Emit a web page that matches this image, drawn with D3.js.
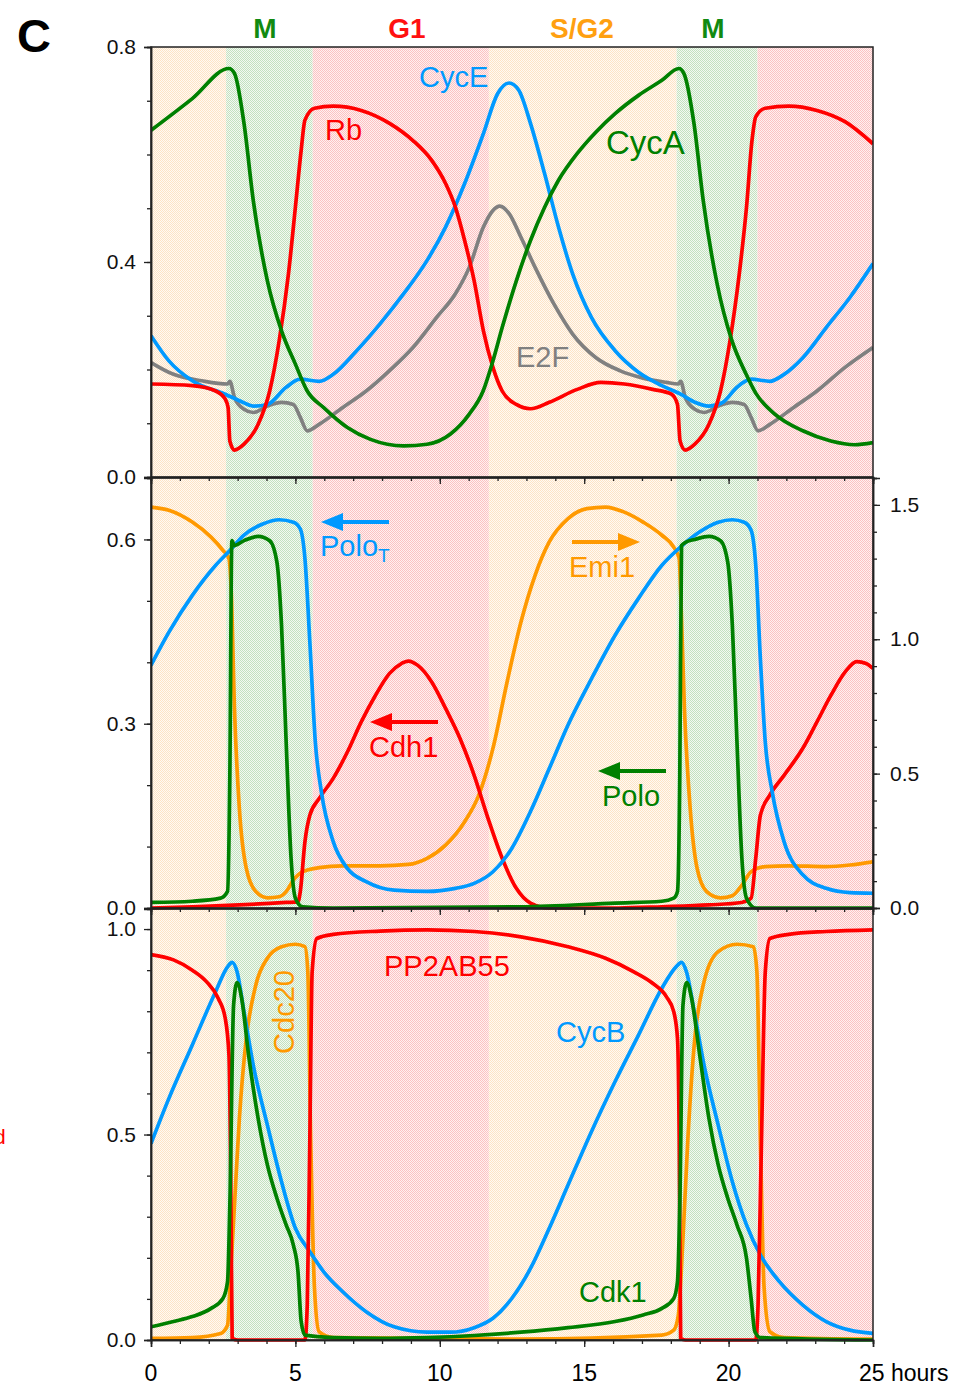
<!DOCTYPE html>
<html>
<head>
<meta charset="utf-8">
<script src="https://cdn.jsdelivr.net/npm/d3@7"></script>
<style>
  body { margin: 0; background: #fff; }
  text { font-family: "Liberation Sans", Arial, sans-serif; }
</style>
</head>
<body>
<div id="chart-area"></div>
<script>
// cell cycle phases (hours)
var phaseStarts = [0, 2.6, 5.6, 11.7, 18.2, 21.0];
var phaseEnds   = [2.6, 5.6, 11.7, 18.2, 21.0, 25];
var phaseKinds  = ["sg2", "m", "g1", "sg2", "m", "g1"];
var phaseLabels = [["M", 265, "m"], ["G1", 407, "g1"], ["S/G2", 582, "sg2"], ["M", 713, "m"]];

// panel 1
var cycA = [[0,0.645],[1.43,0.704],[2.70,0.760],[2.89,0.751],[3.22,0.658],[3.54,0.515],[4.03,0.365],[4.52,0.272],[5.0,0.21],[5.41,0.160],[5.98,0.129],[6.8,0.092],[7.6,0.070],[8.75,0.058],[9.56,0.061],[10.37,0.080],[11.02,0.117],[11.5,0.160],[11.84,0.216],[12.16,0.278],[12.65,0.365],[13.14,0.44],[13.63,0.502],[14.11,0.552],[14.76,0.602],[15.41,0.642],[16.07,0.676],[16.88,0.710],[17.69,0.738],[18.28,0.760],[18.45,0.751],[18.8,0.658],[19.12,0.515],[19.6,0.36],[20.1,0.256],[20.6,0.192],[20.94,0.156],[21.6,0.117],[22.57,0.086],[23.54,0.067],[24.36,0.060],[25,0.064]];
var rb = [[0,0.173],[1.43,0.170],[2.24,0.160],[2.57,0.145],[2.67,0.129],[2.73,0.067],[2.89,0.050],[3.22,0.061],[3.71,0.098],[4.11,0.160],[4.44,0.254],[4.76,0.378],[5.0,0.502],[5.2,0.608],[5.33,0.664],[5.66,0.686],[6.31,0.690],[7.28,0.682],[8.26,0.658],[9.07,0.626],[9.72,0.589],[10.2,0.546],[10.54,0.502],[10.86,0.440],[11.19,0.365],[11.51,0.272],[11.84,0.204],[12.16,0.160],[12.65,0.135],[13.14,0.127],[13.79,0.139],[14.76,0.163],[15.58,0.176],[16.39,0.173],[17.37,0.163],[18.02,0.154],[18.23,0.135],[18.32,0.067],[18.5,0.050],[18.83,0.061],[19.32,0.098],[19.72,0.160],[20.05,0.254],[20.37,0.378],[20.62,0.502],[20.81,0.626],[20.94,0.670],[21.27,0.686],[22.08,0.690],[23.06,0.682],[24.03,0.661],[25,0.620]];
var cycE = [[0,0.263],[0.62,0.216],[1.43,0.179],[2.57,0.154],[3.06,0.142],[3.54,0.132],[4.03,0.135],[4.68,0.167],[5.17,0.182],[5.82,0.178],[6.31,0.191],[7.12,0.235],[7.93,0.285],[8.75,0.341],[9.56,0.403],[10.2,0.465],[10.86,0.546],[11.51,0.639],[12.0,0.713],[12.4,0.733],[12.73,0.720],[13.14,0.658],[13.63,0.564],[14.11,0.465],[14.6,0.378],[15.25,0.297],[16.07,0.235],[16.88,0.195],[17.69,0.170],[18.34,0.154],[18.83,0.139],[19.32,0.132],[19.8,0.139],[20.29,0.167],[20.78,0.182],[21.43,0.178],[21.92,0.191],[22.57,0.222],[23.38,0.278],[24.2,0.334],[25,0.397]];
var e2f = [[0,0.213],[0.78,0.191],[1.76,0.179],[2.65,0.173],[2.73,0.178],[2.89,0.148],[3.22,0.126],[3.54,0.120],[4.03,0.132],[4.52,0.139],[4.93,0.135],[5.17,0.111],[5.41,0.086],[5.82,0.098],[6.63,0.129],[7.45,0.160],[8.26,0.198],[9.07,0.241],[9.89,0.297],[10.54,0.341],[11.02,0.390],[11.51,0.465],[11.84,0.496],[12.08,0.504],[12.4,0.490],[12.81,0.446],[13.3,0.390],[13.95,0.322],[14.6,0.266],[15.41,0.222],[16.23,0.198],[17.04,0.184],[17.85,0.176],[18.26,0.173],[18.34,0.178],[18.5,0.148],[18.83,0.126],[19.15,0.120],[19.64,0.132],[20.13,0.139],[20.54,0.135],[20.78,0.111],[21.02,0.086],[21.43,0.098],[22.24,0.129],[23.06,0.160],[24.03,0.204],[25,0.241]];

// panel 2 (Emi1 on the right axis)
var poloT = [[0,0.395],[0.62,0.449],[1.43,0.509],[2.24,0.558],[2.73,0.582],[3.22,0.607],[3.87,0.625],[4.44,0.632],[4.93,0.628],[5.17,0.617],[5.33,0.569],[5.5,0.433],[5.69,0.270],[5.9,0.189],[6.31,0.108],[6.8,0.0645],[7.45,0.043],[8.42,0.029],[9.56,0.027],[10.54,0.032],[11.19,0.040],[11.84,0.059],[12.49,0.097],[13.14,0.157],[13.79,0.227],[14.44,0.298],[15.25,0.373],[16.07,0.444],[16.88,0.504],[17.69,0.558],[18.34,0.588],[18.99,0.612],[19.64,0.628],[20.13,0.632],[20.54,0.628],[20.78,0.615],[20.94,0.558],[21.1,0.406],[21.27,0.270],[21.51,0.189],[21.92,0.108],[22.57,0.054],[23.38,0.032],[24.2,0.025],[25,0.024]];
var polo = [[0,0.009],[1.43,0.011],[2.41,0.016],[2.65,0.027],[2.73,0.216],[2.8,0.598],[2.89,0.590],[3.22,0.598],[3.71,0.605],[4.11,0.598],[4.36,0.563],[4.52,0.460],[4.68,0.270],[4.85,0.081],[5.0,0.016],[5.25,0.002],[6.31,0.0],[12.8,0.002],[16.07,0.008],[17.69,0.011],[18.1,0.016],[18.23,0.027],[18.31,0.216],[18.37,0.590],[18.5,0.595],[18.83,0.600],[19.32,0.605],[19.72,0.598],[19.97,0.563],[20.13,0.460],[20.29,0.270],[20.46,0.081],[20.62,0.016],[20.94,0.0],[25,0.0]];
var cdh1 = [[0,0.0],[1.43,0.002],[3.06,0.005],[4.68,0.009],[5.09,0.010],[5.17,0.027],[5.33,0.108],[5.5,0.151],[5.82,0.178],[6.31,0.211],[6.8,0.254],[7.28,0.303],[7.77,0.346],[8.26,0.382],[8.67,0.398],[8.91,0.402],[9.24,0.395],[9.72,0.368],[10.2,0.325],[10.7,0.276],[11.19,0.216],[11.67,0.146],[12.16,0.081],[12.65,0.032],[13.14,0.008],[13.79,0.0],[16.2,0.0],[17.69,0.002],[19.32,0.005],[20.45,0.009],[20.78,0.016],[20.94,0.081],[21.1,0.151],[21.43,0.184],[21.92,0.216],[22.57,0.260],[23.06,0.303],[23.54,0.346],[24.03,0.384],[24.44,0.401],[24.76,0.398],[25,0.390]];
var emi1 = [[0,1.492],[0.62,1.48],[1.43,1.436],[2.08,1.380],[2.49,1.331],[2.7,1.30],[2.78,1.176],[2.89,0.742],[3.06,0.37],[3.3,0.147],[3.63,0.061],[4.03,0.038],[4.44,0.042],[4.68,0.061],[4.93,0.104],[5.25,0.135],[5.82,0.150],[6.63,0.157],[7.93,0.157],[8.91,0.162],[9.56,0.185],[10.2,0.234],[10.86,0.321],[11.35,0.420],[11.84,0.594],[12.33,0.841],[12.81,1.064],[13.3,1.238],[13.79,1.362],[14.44,1.449],[15.09,1.486],[15.74,1.492],[16.39,1.473],[17.04,1.436],[17.69,1.387],[18.1,1.343],[18.29,1.30],[18.34,1.176],[18.47,0.742],[18.67,0.37],[18.91,0.147],[19.24,0.061],[19.72,0.038],[20.13,0.046],[20.46,0.085],[20.78,0.135],[21.27,0.154],[22.08,0.157],[23.38,0.154],[24.2,0.16],[25,0.172]];

// panel 3
var pp2a = [[0,0.938],[0.78,0.925],[1.43,0.90],[1.92,0.872],[2.33,0.831],[2.57,0.783],[2.7,0.693],[2.76,0.41],[2.81,0.004],[3.0,0.0],[5.33,0.0],[5.41,0.085],[5.5,0.49],[5.58,0.896],[5.74,0.977],[6.31,0.987],[7.93,0.995],[9.56,0.998],[11.19,0.994],[12.81,0.981],[14.44,0.957],[15.74,0.929],[16.72,0.896],[17.37,0.868],[17.85,0.835],[18.1,0.799],[18.23,0.734],[18.29,0.49],[18.34,0.004],[18.5,0.0],[20.94,0.0],[21.02,0.085],[21.14,0.49],[21.27,0.896],[21.43,0.977],[22.08,0.987],[23.38,0.994],[25,0.998]];
var cycB = [[0,0.478],[0.62,0.588],[1.43,0.718],[2.24,0.848],[2.65,0.908],[2.81,0.919],[2.98,0.896],[3.22,0.799],[3.54,0.669],[4.03,0.523],[4.52,0.385],[5.0,0.272],[5.5,0.215],[5.98,0.166],[6.63,0.118],[7.45,0.069],[8.42,0.032],[9.56,0.019],[10.37,0.019],[11.19,0.030],[11.84,0.053],[12.49,0.101],[13.14,0.174],[13.79,0.272],[14.44,0.377],[15.25,0.507],[16.07,0.629],[16.88,0.742],[17.69,0.856],[18.18,0.908],[18.37,0.919],[18.54,0.896],[18.83,0.791],[19.15,0.669],[19.64,0.523],[20.13,0.385],[20.62,0.280],[21.1,0.207],[21.76,0.142],[22.57,0.085],[23.38,0.045],[24.2,0.024],[25,0.016]];
var cdk1 = [[0,0.032],[0.78,0.045],[1.43,0.057],[2.08,0.077],[2.49,0.101],[2.65,0.142],[2.73,0.328],[2.86,0.815],[2.98,0.870],[3.14,0.831],[3.38,0.693],[3.71,0.539],[4.03,0.426],[4.36,0.345],[4.68,0.280],[4.93,0.231],[5.09,0.166],[5.2,0.045],[5.33,0.012],[6.31,0.006],[7.93,0.004],[9.56,0.006],[11.19,0.011],[12.81,0.019],[14.44,0.030],[16.07,0.045],[17.04,0.061],[17.69,0.077],[18.1,0.101],[18.23,0.142],[18.31,0.328],[18.42,0.815],[18.55,0.870],[18.72,0.831],[19.0,0.693],[19.32,0.539],[19.64,0.426],[19.97,0.345],[20.29,0.280],[20.62,0.199],[20.78,0.101],[20.91,0.020],[21.1,0.006],[25,0.0]];
var cdc20 = [[0,0.004],[1.43,0.006],[2.41,0.016],[2.65,0.036],[2.76,0.166],[2.89,0.328],[3.06,0.539],[3.3,0.734],[3.63,0.864],[4.03,0.929],[4.52,0.957],[5.0,0.963],[5.33,0.957],[5.43,0.896],[5.53,0.49],[5.66,0.126],[5.82,0.020],[6.31,0.006],[12.8,0.002],[17.69,0.012],[18.1,0.024],[18.26,0.061],[18.42,0.247],[18.59,0.49],[18.83,0.734],[19.15,0.872],[19.64,0.945],[20.29,0.963],[20.86,0.957],[20.98,0.896],[21.1,0.49],[21.23,0.126],[21.43,0.020],[21.92,0.006],[25,0.002]];

var xTicksMajor = [0, 5, 10, 15, 20];

var green = "#008000", red = "#ff0000", blue = "#0099ff", orange = "#ff9900", gray = "#808080";

var width = 962, height = 1385;
var svg = d3.select("#chart-area").append("svg")
    .attr("width", width)
    .attr("height", height);

var x = d3.scaleLinear().domain([0, 25]).range([151, 873]);

// dotted band patterns
var defs = svg.append("defs");
var bandFill = {sg2: ["#fffaf3", "#fde3c6"], m: ["#f3f9f2", "#c3e1bf"], g1: ["#fff0f0", "#fbc2c2"]};
Object.keys(bandFill).forEach(function(k) {
    var p = defs.append("pattern").attr("id", "pat-" + k)
        .attr("width", 2).attr("height", 2).attr("patternUnits", "userSpaceOnUse");
    p.append("rect").attr("width", 2).attr("height", 2).attr("fill", bandFill[k][0]);
    p.append("rect").attr("x", 0).attr("y", 0).attr("width", 1).attr("height", 1).attr("fill", bandFill[k][1]);
    p.append("rect").attr("x", 1).attr("y", 1).attr("width", 1).attr("height", 1).attr("fill", bandFill[k][1]);
});

var panels = [
    {top: 47, bottom: 477, max: 0.8, labels: [0, 0.4, 0.8]},
    {top: 478, bottom: 908, max: 0.7, labels: [0, 0.3, 0.6]},
    {top: 909, bottom: 1340, max: 1.0488, labels: [0, 0.5, 1.0]}
];
panels.forEach(function(p) {
    p.y = d3.scaleLinear().domain([0, p.max]).range([p.bottom, p.top]);
});
var yRight = d3.scaleLinear().domain([0, 1.6]).range([908, 478]);

// background bands across all panels
svg.append("g").selectAll("rect")
    .data(phaseStarts)
    .enter().append("rect")
        .attr("x", function(d) { return x(d); })
        .attr("y", 47)
        .attr("width", function(d, i) { return x(phaseEnds[i]) - x(d); })
        .attr("height", 1340 - 47)
        .attr("fill", function(d, i) { return "url(#pat-" + phaseKinds[i] + ")"; });

// phase labels
var phaseColor = {m: "#118a11", g1: "#ff1010", sg2: "#ffa010"};
svg.selectAll(".phase")
    .data(phaseLabels)
    .enter().append("text")
        .attr("class", "phase")
        .attr("x", function(d) { return d[1]; })
        .attr("y", 38)
        .attr("text-anchor", "middle")
        .attr("font-size", "28px")
        .attr("font-weight", "bold")
        .attr("fill", function(d) { return phaseColor[d[2]]; })
        .text(function(d) { return d[0]; });

svg.append("text").attr("x", 17).attr("y", 52)
    .attr("font-size", "47px").attr("font-weight", "bold").text("C");

// stray label fragment at the left edge
svg.append("text").attr("x", -6).attr("y", 1144)
    .attr("font-size", "21px").attr("fill", red).text("d");

panels.forEach(function(p, i) {
    defs.append("clipPath").attr("id", "c" + i).append("rect")
        .attr("x", 151).attr("y", p.top - 2).attr("width", 722).attr("height", p.bottom - p.top + 4);
});

function drawLine(panelIndex, data, color, yScale) {
    var ys = yScale || panels[panelIndex].y;
    var line = d3.line()
        .x(function(d) { return x(d[0]); })
        .y(function(d) { return ys(d[1]); })
        .curve(d3.curveMonotoneX);
    svg.append("path")
        .datum(data)
        .attr("clip-path", "url(#c" + panelIndex + ")")
        .attr("fill", "none")
        .attr("stroke", color)
        .attr("stroke-width", 3.7)
        .attr("stroke-linejoin", "round")
        .attr("d", line);
}

drawLine(0, e2f, gray);
drawLine(0, cycE, blue);
drawLine(0, rb, red);
drawLine(0, cycA, green);

drawLine(1, emi1, orange, yRight);
drawLine(1, cdh1, red);
drawLine(1, poloT, blue);
drawLine(1, polo, green);

drawLine(2, cdc20, orange);
drawLine(2, cycB, blue);
drawLine(2, pp2a, red);
drawLine(2, cdk1, green);

// axes and frames
panels.forEach(function(p, i) {
    svg.append("rect")
        .attr("x", 151).attr("y", p.top)
        .attr("width", 722).attr("height", p.bottom - p.top)
        .attr("fill", "none").attr("stroke", "#222").attr("stroke-width", 1.5);

    var minor = d3.range(0, p.max + 0.001, 0.1);
    var leftMinor = d3.axisLeft(p.y).tickValues(minor).tickSize(4).tickFormat("");
    svg.append("g").attr("transform", "translate(151,0)").call(leftMinor);
    var leftAxis = d3.axisLeft(p.y).tickValues(p.labels).tickSize(7).tickPadding(8).tickFormat(d3.format(".1f"));
    svg.append("g").attr("class", "left axis").attr("transform", "translate(151,0)").call(leftAxis);

    var bottomMinor = d3.axisBottom(x).tickValues(d3.range(0, 26, 1)).tickSize(4).tickFormat("");
    svg.append("g").attr("transform", "translate(0," + p.bottom + ")").call(bottomMinor);
    var bottomMajor = d3.axisBottom(x).tickValues(d3.range(0, 26, 5)).tickSize(7).tickFormat("");
    svg.append("g").attr("transform", "translate(0," + p.bottom + ")").call(bottomMajor);
});

var rightMinor = d3.axisRight(yRight).tickValues(d3.range(0, 1.61, 0.1)).tickSize(4).tickFormat("");
svg.append("g").attr("transform", "translate(873,0)").call(rightMinor);
var rightAxis = d3.axisRight(yRight).tickValues([0, 0.5, 1.0, 1.5]).tickSize(7).tickPadding(10).tickFormat(d3.format(".1f"));
svg.append("g").attr("class", "right axis").attr("transform", "translate(873,0)").call(rightAxis);

// x tick labels
svg.selectAll(".xlab")
    .data(xTicksMajor)
    .enter().append("text")
        .attr("class", "xlab")
        .attr("x", function(d) { return x(d); })
        .attr("y", 1381)
        .attr("text-anchor", "middle")
        .attr("font-size", "23px")
        .text(function(d) { return d; });
svg.append("text").attr("x", x(25) - 14).attr("y", 1381)
    .attr("font-size", "23px").text("25 hours");

svg.selectAll(".axis text").attr("font-size", "21px").attr("fill", "#111")
    .style("font-family", "Liberation Sans, Arial, sans-serif");
svg.selectAll(".domain").attr("stroke", "#222").attr("stroke-width", 1.5);
svg.selectAll(".tick line").attr("stroke", "#222").attr("stroke-width", 1.3);

// curve labels
function label(txt, xx, yy, color, size) {
    return svg.append("text").attr("x", xx).attr("y", yy)
        .attr("font-size", (size || 29) + "px").attr("fill", color).text(txt);
}
label("CycE", 419, 87, blue);
label("Rb", 325, 140, red);
label("CycA", 606, 154, green, 33);
label("E2F", 516, 367, gray);

var pt = label("Polo", 320, 556, blue);
pt.append("tspan").attr("dy", 6).attr("font-size", "19px").text("T");
label("Emi1", 569, 577, orange);
label("Cdh1", 369, 757, red);
label("Polo", 602, 806, green);

label("PP2AB55", 384, 976, red);
label("CycB", 556, 1042, blue);
label("Cdk1", 579, 1302, green);
svg.append("text")
    .attr("transform", "translate(294,1012) rotate(-90)")
    .attr("text-anchor", "middle")
    .attr("font-size", "29px").attr("fill", orange).text("Cdc20");

// arrows
function arrow(x1, x2, yy, color) {
    var dir = x2 > x1 ? 1 : -1;
    svg.append("line")
        .attr("x1", x1).attr("x2", x2 - dir * 14).attr("y1", yy).attr("y2", yy)
        .attr("stroke", color).attr("stroke-width", 4);
    svg.append("path")
        .attr("d", "M" + x2 + "," + yy + "L" + (x2 - dir * 22) + "," + (yy - 9) + "L" + (x2 - dir * 22) + "," + (yy + 9) + "Z")
        .attr("fill", color);
}
arrow(389, 321, 522, blue);
arrow(572, 640, 542, orange);
arrow(438, 370, 722, red);
arrow(666, 598, 771, green);
</script>
</body>
</html>
